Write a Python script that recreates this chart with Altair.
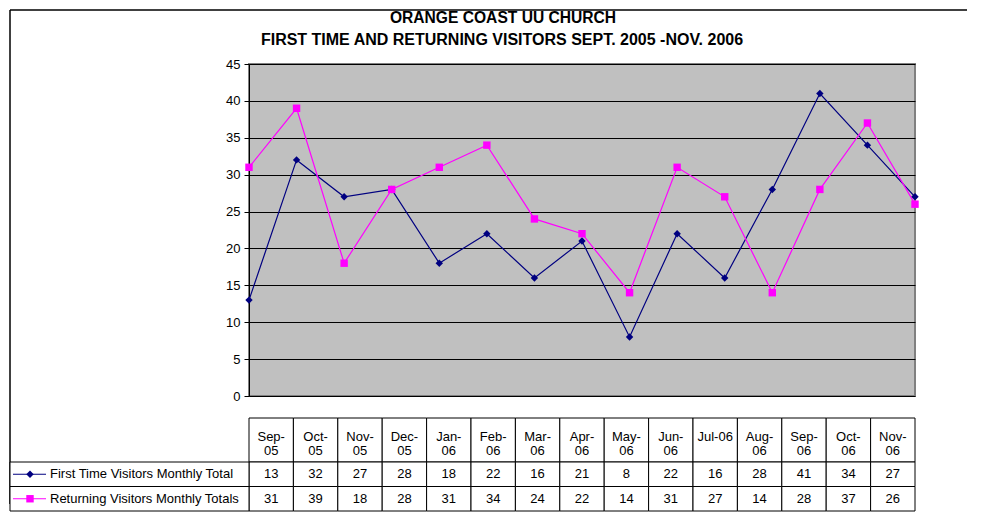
import altair as alt
import pandas as pd

months = ["Sep-05", "Oct-05", "Nov-05", "Dec-05", "Jan-06", "Feb-06", "Mar-06", "Apr-06",
          "May-06", "Jun-06", "Jul-06", "Aug-06", "Sep-06", "Oct-06", "Nov-06"]
month_header = [["Sep-", "05"], ["Oct-", "05"], ["Nov-", "05"], ["Dec-", "05"], ["Jan-", "06"],
                ["Feb-", "06"], ["Mar-", "06"], ["Apr-", "06"], ["May-", "06"], ["Jun-", "06"],
                ["Jul-06"], ["Aug-", "06"], ["Sep-", "06"], ["Oct-", "06"], ["Nov-", "06"]]
first_time = [13, 32, 27, 28, 18, 22, 16, 21, 8, 22, 16, 28, 41, 34, 27]
returning = [31, 39, 18, 28, 31, 34, 24, 22, 14, 31, 27, 14, 28, 37, 26]
series_names = ["First Time Visitors Monthly Total", "Returning Visitors Monthly Totals"]
series_colors = ["#000080", "#FF00FF"]
series_shapes = ["diamond", "square"]
title_lines = ["ORANGE COAST UU CHURCH", "FIRST TIME AND RETURNING VISITORS SEPT. 2005 -NOV. 2006"]
y_ticks = [0, 5, 10, 15, 20, 25, 30, 35, 40, 45]

FONT = "Liberation Sans"

rows = []
for name, vals in zip(series_names, [first_time, returning]):
    for m, v in zip(months, vals):
        rows.append({"month": m, "series": name, "value": v})
df = pd.DataFrame(rows)
hdr = pd.DataFrame({"month": months, "label": month_header})

color = alt.Color("series:N", scale=alt.Scale(domain=series_names, range=series_colors), legend=None)
shape = alt.Shape("series:N", scale=alt.Scale(domain=series_names, range=series_shapes), legend=None)

# ---------- line chart ----------
xA = alt.X("month:N", sort=months, scale=alt.Scale(type="point", padding=0), axis=None)
yA = alt.Y("value:Q", scale=alt.Scale(domain=[0, 45], nice=False),
           axis=alt.Axis(values=y_ticks, grid=True, gridColor="black", gridWidth=1,
                         domainColor="black", tickColor="black", tickSize=5,
                         labelFont=FONT, labelFontSize=13, labelColor="black",
                         labelPadding=4, title=None))

base = alt.Chart(df)
lines = base.mark_line(strokeWidth=1.2).encode(x=xA, y=yA, color=color, detail="series:N")
pts = base.mark_point(filled=True, opacity=1, size=55).encode(x=xA, y=yA, color=color, shape=shape)

t1 = alt.Chart(pd.DataFrame({"t": [title_lines[0]]})).mark_text(
    font=FONT, fontSize=15.6, fontWeight="bold", color="black", baseline="middle", align="center"
).encode(text="t:N", x=alt.value(254), y=alt.value(-46))
t2 = alt.Chart(pd.DataFrame({"t": [title_lines[1]]})).mark_text(
    font=FONT, fontSize=16, fontWeight="bold", color="black", baseline="middle", align="center"
).encode(text="t:N", x=alt.value(253), y=alt.value(-24))

frame_v = alt.Chart(pd.DataFrame({"a": [0]})).mark_rule(color="black", strokeWidth=1.5).encode(
    x=alt.value(-239), y=alt.value(-54), y2=alt.value(440))
frame_h = alt.Chart(pd.DataFrame({"a": [0]})).mark_rule(color="black", strokeWidth=1.5).encode(
    x=alt.value(-239), x2=alt.value(718), y=alt.value(-54))

chartA = alt.layer(lines, pts, t1, t2, frame_v, frame_h).properties(
    width=666, height=332,
    view=alt.ViewBackground(fill="#C0C0C0", stroke="#808080", strokeWidth=2),
)

# ---------- data table ----------
xB = alt.X("month:N", sort=months, scale=alt.Scale(type="band", paddingInner=0, paddingOuter=0), axis=None)
yB = alt.Y("series:N", scale=alt.Scale(domain=series_names, range=[44, 93], paddingInner=0, paddingOuter=0), axis=None)

hdr_cells = alt.Chart(hdr).mark_rect(fill="white", stroke="black", strokeWidth=1).encode(
    x=xB, y=alt.value(0), y2=alt.value(44))
hdr_text = alt.Chart(hdr).mark_text(font=FONT, fontSize=13, color="black", baseline="alphabetic",
                                    align="center", lineHeight=13.5).encode(
    x=xB, y=alt.value(23), text="label")

body = alt.Chart(df)
cells = body.mark_rect(fill="white", stroke="black", strokeWidth=1).encode(x=xB, y=yB)
cell_text = body.mark_text(font=FONT, fontSize=13, color="black", baseline="middle", align="center").encode(
    x=xB, y=yB, text="value:Q")

lab_df = pd.DataFrame({"series": series_names})
lab_cells = alt.Chart(lab_df).mark_rect(fill="white", stroke="black", strokeWidth=1).encode(
    x=alt.value(-239), x2=alt.value(0), y=yB)
lab_text = alt.Chart(lab_df).mark_text(font=FONT, fontSize=13, color="black", baseline="middle", align="left").encode(
    x=alt.value(-199), y=yB, text="series:N")
lab_line = alt.Chart(lab_df).mark_rule(strokeWidth=1.2).encode(
    x=alt.value(-236), x2=alt.value(-203), y=yB, color=color)
lab_pt = alt.Chart(lab_df).mark_point(filled=True, opacity=1, size=55).encode(
    x=alt.value(-219), y=yB, color=color, shape=shape)

chartB = alt.layer(hdr_cells, hdr_text, cells, cell_text, lab_cells, lab_text, lab_line, lab_pt).properties(
    width=666, height=93,
    view=alt.ViewBackground(strokeWidth=0),
)

chart = alt.vconcat(chartA, chartB, spacing=22, bounds="flush").properties(padding=0).configure(
    background="white")

chart.save("out.html", embed_options={"renderer": "svg", "actions": False})
